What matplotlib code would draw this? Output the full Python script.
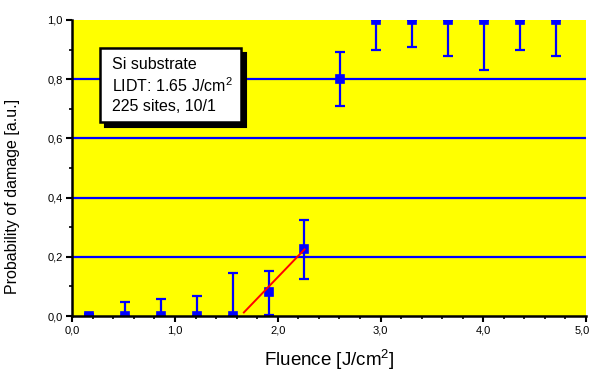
import matplotlib
matplotlib.use("Agg")
import matplotlib.pyplot as plt
from matplotlib.patches import Rectangle
from matplotlib.ticker import MultipleLocator, FuncFormatter

plt.rcParams['font.family'] = ['Liberation Sans', 'DejaVu Sans']

# Damage probability measurements
fluence = [0.16, 0.51, 0.86, 1.21, 1.56, 1.91, 2.26, 2.61, 2.96, 3.31, 3.66, 4.01, 4.36, 4.71]
prob = [0.0, 0.0, 0.0, 0.0, 0.0, 0.08, 0.225, 0.80, 1.0, 1.0, 1.0, 1.0, 1.0, 1.0]
err_low = [0.0, 0.0, 0.0, 0.0, 0.0, 0.075, 0.10, 0.09, 0.10, 0.09, 0.12, 0.17, 0.10, 0.12]
err_high = [0.008, 0.048, 0.056, 0.069, 0.144, 0.072, 0.10, 0.093, 0.0, 0.0, 0.0, 0.0, 0.0, 0.0]

# Linear fit through the onset region
fit_x = [1.67, 2.26]
fit_y = [0.012, 0.225]

grid_levels = [0.2, 0.4, 0.6, 0.8]
x_max = 5.0

fig = plt.figure(figsize=(5.92, 3.73), dpi=100)
ax = fig.add_axes([0.1221, 0.1528, 0.8678, 0.7936])
ax.set_facecolor('#ffff00')

for g in grid_levels:
    ax.axhline(g, color='#0000ff', lw=1.6, zorder=1)

ax.errorbar(fluence, prob, yerr=[err_low, err_high], fmt='none',
            ecolor='#0000ff', elinewidth=1.6, capsize=3.5, capthick=1.6, zorder=3)
ax.plot(fluence, prob, 's', ms=6, mfc='#0000ff', mec='#0000ff', mew=1.2,
        linestyle='none', zorder=4)
ax.plot(fit_x, fit_y, color='#ff0000', lw=1.4, zorder=5)

ax.set_xlim(0, x_max)
ax.set_ylim(0, 1.0)
ax.xaxis.set_major_locator(MultipleLocator(1.0))
ax.xaxis.set_minor_locator(MultipleLocator(0.2))
ax.yaxis.set_major_locator(MultipleLocator(0.2))
ax.yaxis.set_minor_locator(MultipleLocator(0.1))


def comma(v, p=None):
    return f"{v:.1f}".replace('.', ',')


# the right-most x label is drawn separately, nudged to stay inside the edge
ax.xaxis.set_major_formatter(FuncFormatter(lambda v, p: '' if abs(v - x_max) < 1e-9 else comma(v)))
ax.yaxis.set_major_formatter(FuncFormatter(comma))
ax.annotate(comma(x_max), xy=(x_max, 0), xycoords=('data', 'axes fraction'),
            xytext=(-2.5, -7), textcoords='offset points', ha='center', va='top',
            fontsize=8, annotation_clip=False)

for s in ['top', 'right']:
    ax.spines[s].set_visible(False)
for s in ['left', 'bottom']:
    ax.spines[s].set_linewidth(1.8)
    ax.spines[s].set_zorder(6)

ax.tick_params(which='major', direction='out', length=4, width=1.5, labelsize=8, pad=3)
ax.tick_params(which='minor', direction='out', length=2.5, width=1.2)

ax.set_xlabel('Fluence [J/cm$\\mathregular{^2}$]', fontsize=13.5, labelpad=9)
ax.set_ylabel('Probability of damage [a.u.]', fontsize=11.5)
ax.yaxis.set_label_coords(-0.102, 0.405)

# Annotation box with drop shadow
ax.add_patch(Rectangle((0.32, 0.637), 1.37, 0.25, transform=ax.transData,
                       facecolor='black', edgecolor='black', lw=1.5, zorder=7))
ax.add_patch(Rectangle((0.27, 0.656), 1.37, 0.25, transform=ax.transData,
                       facecolor='white', edgecolor='black', lw=1.8, zorder=8))
ax.text(0.39, 0.875, 'Si substrate\nLIDT: 1.65 J/cm$\\mathregular{^2}$\n225 sites, 10/1',
        fontsize=11.5, va='top', ha='left', linespacing=1.3, zorder=9)

fig.savefig('out.png', dpi=100)
